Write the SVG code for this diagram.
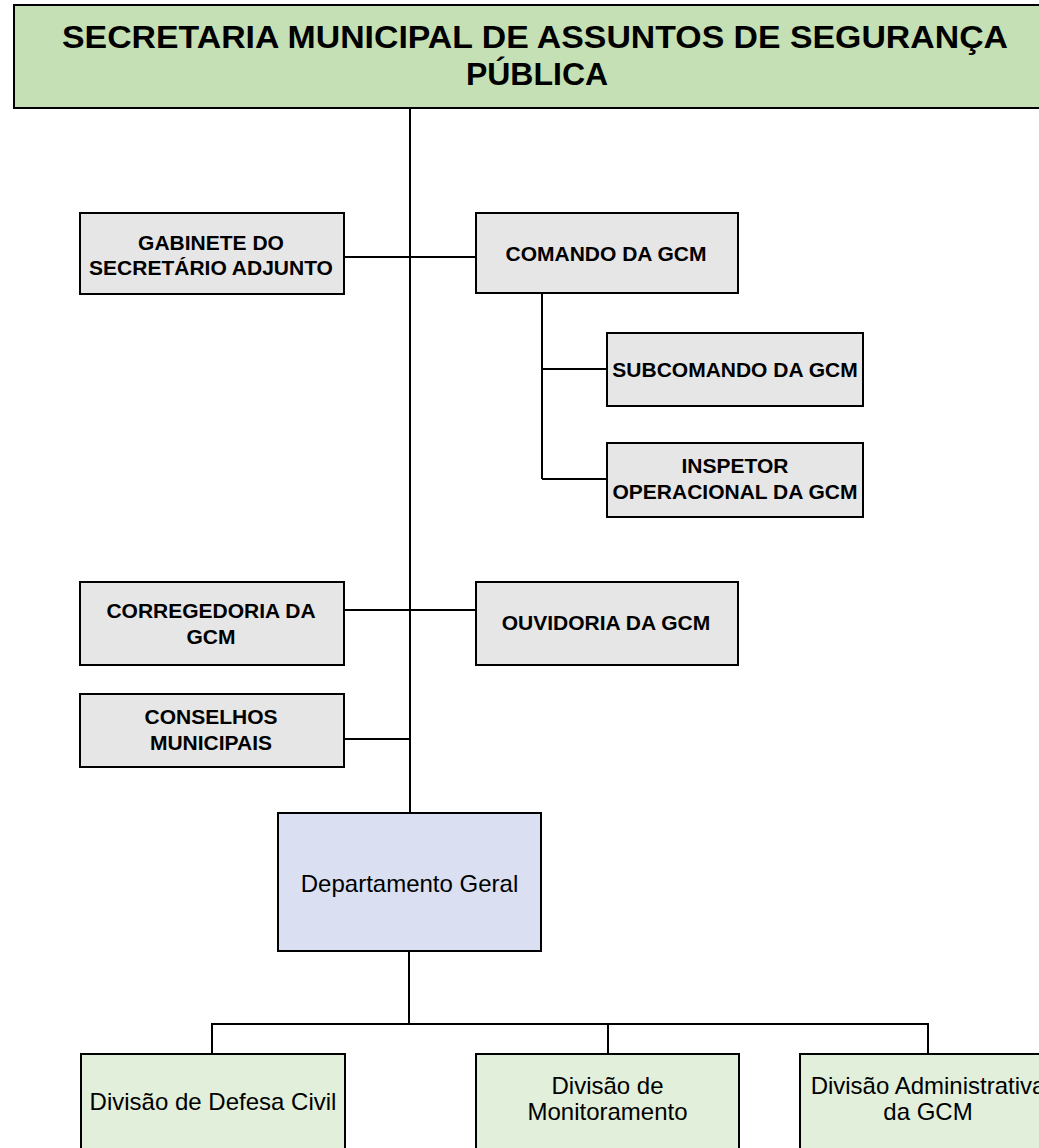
<svg xmlns="http://www.w3.org/2000/svg" width="1039" height="1148" viewBox="0 0 1039 1148">
<style>
.box{stroke:#000;stroke-width:2}
.title{fill:#c5e0b4}
.gray{fill:#e6e6e6}
.blue{fill:#dae0f2}
.green{fill:#e2efda}
.b{font-family:"Liberation Sans",Arial,sans-serif;font-weight:bold;font-size:21px;fill:#000;text-anchor:middle}
.r{font-family:"Liberation Sans",Arial,sans-serif;font-size:24px;fill:#000;text-anchor:middle}
.t{font-family:"Liberation Sans",Arial,sans-serif;font-weight:bold;font-size:32px;fill:#000;text-anchor:middle}
.c{stroke:#000;stroke-width:2;fill:none}
</style>
<rect width="1039" height="1148" fill="#fff"/>
<g id="connectors">
<path class="c" d="M410 108V813"/>
<path class="c" d="M344 257H476"/>
<path class="c" d="M542 293V479M542 369H607M542 479H607"/>
<path class="c" d="M344 610H476"/>
<path class="c" d="M344 739H410"/>
<path class="c" d="M409 951V1024M212 1024H928M212 1023V1054M608 1023V1054M928 1023V1054"/>
</g>
<g id="n-secretaria">
<rect class="box title" x="14" y="5" width="1042" height="103"/>
<text class="t" x="535" y="48" textLength="946" lengthAdjust="spacingAndGlyphs">SECRETARIA MUNICIPAL DE ASSUNTOS DE SEGURANÇA</text>
<text class="t" x="537" y="85">PÚBLICA</text>
</g>
<g id="n-gabinete">
<rect class="box gray" x="80" y="213" width="264" height="81"/>
<text class="b" x="211" y="250">GABINETE DO</text>
<text class="b" x="211" y="275">SECRETÁRIO ADJUNTO</text>
</g>
<g id="n-comando">
<rect class="box gray" x="476" y="213" width="262" height="80"/>
<text class="b" x="606" y="261">COMANDO DA GCM</text>
</g>
<g id="n-subcomando">
<rect class="box gray" x="607" y="333" width="256" height="73"/>
<text class="b" x="735" y="377">SUBCOMANDO DA GCM</text>
</g>
<g id="n-inspetor">
<rect class="box gray" x="607" y="443" width="256" height="74"/>
<text class="b" x="735" y="473">INSPETOR</text>
<text class="b" x="735" y="499">OPERACIONAL DA GCM</text>
</g>
<g id="n-corregedoria">
<rect class="box gray" x="80" y="582" width="264" height="83"/>
<text class="b" x="211" y="618">CORREGEDORIA DA</text>
<text class="b" x="211" y="644">GCM</text>
</g>
<g id="n-ouvidoria">
<rect class="box gray" x="476" y="582" width="262" height="83"/>
<text class="b" x="606" y="630">OUVIDORIA DA GCM</text>
</g>
<g id="n-conselhos">
<rect class="box gray" x="80" y="694" width="264" height="73"/>
<text class="b" x="211" y="724">CONSELHOS</text>
<text class="b" x="211" y="750">MUNICIPAIS</text>
</g>
<g id="n-departamento">
<rect class="box blue" x="278" y="813" width="263" height="138"/>
<text class="r" x="409.5" y="892">Departamento Geral</text>
</g>
<g id="n-defesa">
<rect class="box green" x="81" y="1054" width="264" height="110"/>
<text class="r" x="213" y="1110">Divisão de Defesa Civil</text>
</g>
<g id="n-monitoramento">
<rect class="box green" x="476" y="1054" width="263" height="110"/>
<text class="r" x="607.5" y="1094">Divisão de</text>
<text class="r" x="607.5" y="1120">Monitoramento</text>
</g>
<g id="n-administrativa">
<rect class="box green" x="800" y="1054" width="256" height="110"/>
<text class="r" x="928" y="1094">Divisão Administrativa</text>
<text class="r" x="928" y="1120">da GCM</text>
</g>
</svg>
